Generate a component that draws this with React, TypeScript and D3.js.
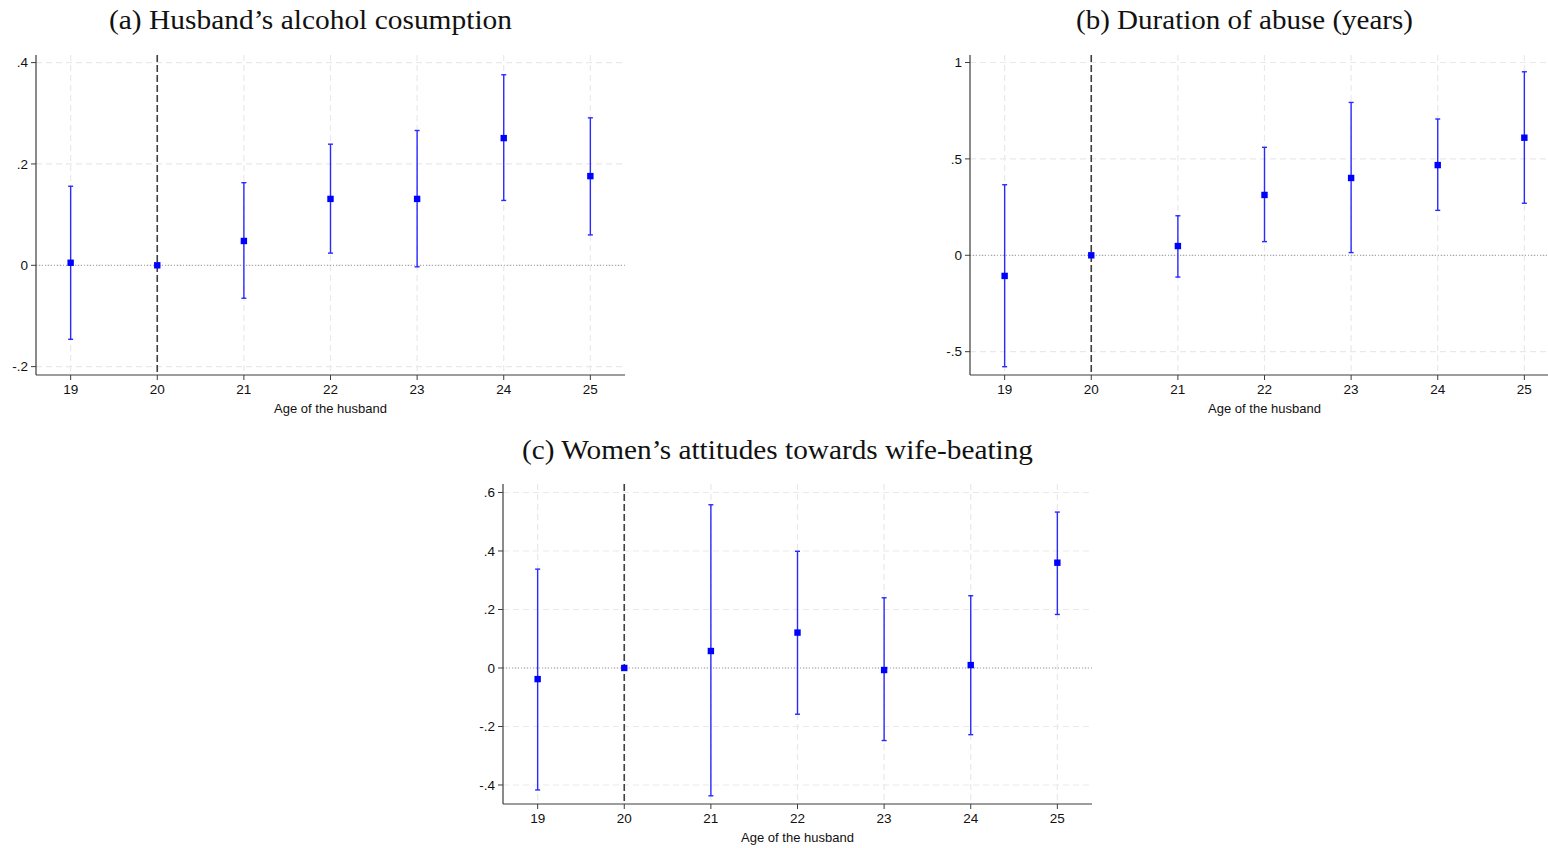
import React from "react";
import * as d3 from "d3";

const ages = [19, 20, 21, 22, 23, 24, 25];

const alcoholCoef = [0.005, 0, 0.048, 0.131, 0.131, 0.251, 0.176];
const alcoholLo = [-0.146, 0, -0.065, 0.024, -0.003, 0.128, 0.06];
const alcoholHi = [0.156, 0, 0.163, 0.239, 0.266, 0.376, 0.291];

const durationCoef = [-0.107, 0, 0.048, 0.313, 0.401, 0.468, 0.61];
const durationLo = [-0.578, 0, -0.113, 0.071, 0.014, 0.233, 0.27];
const durationHi = [0.366, 0, 0.205, 0.56, 0.793, 0.707, 0.952];

const attitudeCoef = [-0.038, 0, 0.058, 0.121, -0.007, 0.01, 0.36];
const attitudeLo = [-0.417, 0, -0.437, -0.158, -0.248, -0.228, 0.183];
const attitudeHi = [0.338, 0, 0.558, 0.399, 0.24, 0.247, 0.533];

const alcoholTicks = [-0.2, 0, 0.2, 0.4];
const alcoholTickLabels = ["-.2", "0", ".2", ".4"];
const durationTicks = [-0.5, 0, 0.5, 1];
const durationTickLabels = ["-.5", "0", ".5", "1"];
const attitudeTicks = [-0.4, -0.2, 0, 0.2, 0.4, 0.6];
const attitudeTickLabels = ["-.4", "-.2", "0", ".2", ".4", ".6"];

const titles = [
  "(a) Husband\u2019s alcohol cosumption",
  "(b) Duration of abuse (years)",
  "(c) Women\u2019s attitudes towards wife-beating",
];
const xAxisTitle = "Age of the husband";
const referenceAge = 20;

type PanelProps = {
  left: number;
  right: number;
  top: number;
  bottom: number;
  yDomain: [number, number];
  ticks: number[];
  tickLabels: string[];
  coef: number[];
  lo: number[];
  hi: number[];
  title: string;
  titleY: number;
  titleWidth: number;
};

function Panel(p: PanelProps) {
  const x = d3.scaleLinear().domain([18.6, 25.4]).range([p.left, p.right]);
  const y = d3.scaleLinear().domain(p.yDomain).range([p.bottom, p.top]);
  const sans = "'Liberation Sans', Arial, Helvetica, sans-serif";
  const axisColor = "#3c3c3c";
  const gridColor = "#e9e9e9";
  const blue = "#0000ff";
  const mid = (p.left + p.right) / 2;
  return (
    <g>
      <text
        x={mid - 20 - p.titleWidth / 2}
        y={p.titleY}
        textLength={p.titleWidth}
        lengthAdjust="spacingAndGlyphs"
        fontFamily="'Liberation Serif', 'DejaVu Serif', serif"
        fontSize={27}
        fill="#111"
      >
        {p.title}
      </text>
      {p.ticks.map((t, i) => (
        <line
          key={"hg" + i}
          x1={p.left}
          x2={p.right}
          y1={y(t)}
          y2={y(t)}
          stroke={gridColor}
          strokeWidth={1.2}
          strokeDasharray="6,4"
        />
      ))}
      {ages.map((a, i) => (
        <line
          key={"vg" + i}
          x1={x(a)}
          x2={x(a)}
          y1={p.top}
          y2={p.bottom}
          stroke={gridColor}
          strokeWidth={1.2}
          strokeDasharray="6,4"
        />
      ))}
      <line
        x1={p.left}
        x2={p.right}
        y1={y(0)}
        y2={y(0)}
        stroke="#9a9a9a"
        strokeWidth={1}
        strokeDasharray="1,2"
      />
      <line
        x1={x(referenceAge)}
        x2={x(referenceAge)}
        y1={p.top}
        y2={p.bottom}
        stroke="#404040"
        strokeWidth={1.6}
        strokeDasharray="7,3"
      />
      <line x1={p.left} x2={p.left} y1={p.top} y2={p.bottom} stroke={axisColor} strokeWidth={1.2} />
      <line x1={p.left} x2={p.right} y1={p.bottom} y2={p.bottom} stroke={axisColor} strokeWidth={1.2} />
      {p.ticks.map((t, i) => (
        <g key={"yt" + i}>
          <line x1={p.left - 5} x2={p.left} y1={y(t)} y2={y(t)} stroke={axisColor} strokeWidth={1} />
          <text
            x={p.left - 8}
            y={y(t)}
            dy="0.35em"
            textAnchor="end"
            fontFamily={sans}
            fontSize={13.5}
            fill="#111"
          >
            {p.tickLabels[i]}
          </text>
        </g>
      ))}
      {ages.map((a, i) => (
        <g key={"xt" + i}>
          <line x1={x(a)} x2={x(a)} y1={p.bottom} y2={p.bottom + 5} stroke={axisColor} strokeWidth={1} />
          <text
            x={x(a)}
            y={p.bottom + 19}
            textAnchor="middle"
            fontFamily={sans}
            fontSize={13.5}
            fill="#111"
          >
            {a}
          </text>
        </g>
      ))}
      <text
        x={mid}
        y={p.bottom + 38}
        textAnchor="middle"
        fontFamily={sans}
        fontSize={13}
        fill="#111"
      >
        {xAxisTitle}
      </text>
      {ages.map((a, i) =>
        a === referenceAge ? null : (
          <g key={"eb" + i} stroke="#2a2aff" strokeWidth={1.4}>
            <line x1={x(a)} x2={x(a)} y1={y(p.lo[i])} y2={y(p.hi[i])} />
            <line x1={x(a) - 2.5} x2={x(a) + 2.5} y1={y(p.lo[i])} y2={y(p.lo[i])} />
            <line x1={x(a) - 2.5} x2={x(a) + 2.5} y1={y(p.hi[i])} y2={y(p.hi[i])} />
          </g>
        )
      )}
      {ages.map((a, i) => (
        <rect
          key={"pt" + i}
          x={x(a) - 3.2}
          y={y(p.coef[i]) - 3.2}
          width={6.4}
          height={6.4}
          fill={blue}
        />
      ))}
    </g>
  );
}

export default function App() {
  return (
    <svg
      width={1548}
      height={848}
      style={{ position: "absolute", left: 0, top: 0, background: "#fff" }}
    >
      <rect x={0} y={0} width={1548} height={848} fill="#fff" />
      <Panel
        left={36}
        right={625}
        top={55}
        bottom={375}
        yDomain={[-0.2165, 0.415]}
        ticks={alcoholTicks}
        tickLabels={alcoholTickLabels}
        coef={alcoholCoef}
        lo={alcoholLo}
        hi={alcoholHi}
        title={titles[0]}
        titleY={29}
        titleWidth={403}
      />
      <Panel
        left={970}
        right={1559}
        top={55}
        bottom={375}
        yDomain={[-0.621, 1.039]}
        ticks={durationTicks}
        tickLabels={durationTickLabels}
        coef={durationCoef}
        lo={durationLo}
        hi={durationHi}
        title={titles[1]}
        titleY={29}
        titleWidth={337}
      />
      <Panel
        left={503}
        right={1092}
        top={484}
        bottom={804}
        yDomain={[-0.465, 0.629]}
        ticks={attitudeTicks}
        tickLabels={attitudeTickLabels}
        coef={attitudeCoef}
        lo={attitudeLo}
        hi={attitudeHi}
        title={titles[2]}
        titleY={459}
        titleWidth={511}
      />
    </svg>
  );
}
